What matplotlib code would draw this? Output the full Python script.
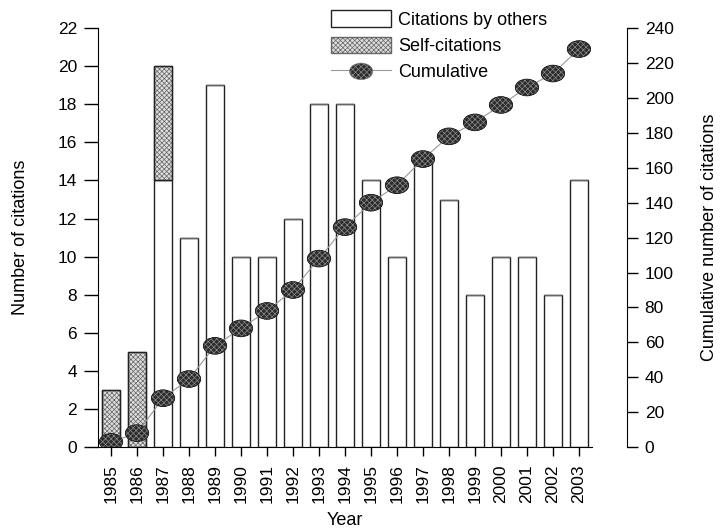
import matplotlib.pyplot as plt
from matplotlib.path import Path
from matplotlib.transforms import Affine2D
from matplotlib.lines import Line2D
from matplotlib.legend_handler import HandlerTuple

plt.rcParams['font.family'] = ['Liberation Sans', 'DejaVu Sans']
plt.rcParams['font.size'] = 12.5
plt.rcParams['hatch.linewidth'] = 0.5

years = ['1985', '1986', '1987', '1988', '1989', '1990', '1991', '1992', '1993', '1994',
         '1995', '1996', '1997', '1998', '1999', '2000', '2001', '2002', '2003']
by_others = [0, 0, 14, 11, 19, 10, 10, 12, 18, 18, 14, 10, 15, 13, 8, 10, 10, 8, 14]
self_cit = [3, 5, 6, 0, 0, 0, 0, 0, 0, 0, 0, 0, 0, 0, 0, 0, 0, 0, 0]
cumulative = [3, 8, 28, 39, 58, 68, 78, 90, 108, 126, 140, 150, 165, 178, 186, 196, 206, 214, 228]

x = list(range(len(years)))

fig = plt.figure(figsize=(7.21, 5.31), dpi=100)
ax = fig.add_axes([0.136, 0.158, 0.685, 0.789])

b1 = ax.bar(x, by_others, width=0.7, color='white', edgecolor='#222222', linewidth=1)
b2 = ax.bar(x, self_cit, width=0.7, bottom=by_others, color='#dddddd',
            edgecolor='#666666', hatch='xxxxxxx', linewidth=1)
# redraw outlines of self-citation bars in dark
for xi, s, o in zip(x, self_cit, by_others):
    if s:
        ax.bar(xi, s, width=0.7, bottom=o, fill=False, edgecolor='#222222', linewidth=1)

ax.set_xlim(-0.5, 18.5)
ax.set_ylim(0, 22)
ax.set_yticks(range(0, 23, 2))
ax.set_xticks(x)
ax.set_xticklabels(years, rotation=90)
ax.spines['top'].set_visible(False)
ax.spines['right'].set_visible(False)
ax.tick_params(axis='y', direction='out', length=10, width=1, pad=5)
ax.tick_params(axis='x', direction='out', length=6.5, width=1, pad=6)
ax.set_ylabel('Number of citations', fontsize=13, labelpad=21)
ax.set_xlabel('Year', fontsize=13, labelpad=6)

ax2 = ax.twinx()
ax2.set_ylim(0, 240)
ax2.set_yticks(range(0, 241, 20))
ax2.spines['right'].set_position(('outward', 25))
for s in ['top', 'left', 'bottom']:
    ax2.spines[s].set_visible(False)
ax2.tick_params(axis='y', direction='out', length=8, width=1, pad=5)
ax2.set_ylabel('Cumulative number of citations', fontsize=13, labelpad=20)

ellipse = Path.unit_circle().transformed(Affine2D().scale(1.4, 1.0))
line, = ax2.plot(x, cumulative, color='#999999', linewidth=0.8, zorder=2)
sc = ax2.scatter(x, cumulative, s=280, marker=ellipse, facecolor='#2b2b2b',
                 edgecolor='#8a8a8a', hatch='xxxxxx', linewidth=0.5, zorder=3)
ax2.scatter(x, cumulative, s=280, marker=ellipse, facecolor='none',
            edgecolor='#111111', linewidth=0.6, zorder=4)

line_proxy = Line2D([], [], color='#999999', linewidth=0.8)
fig.legend([b1, b2, (line_proxy, sc)], ['Citations by others', 'Self-citations', 'Cumulative'],
           handler_map={tuple: HandlerTuple(ndivide=1)}, scatterpoints=1,
           loc='upper left', bbox_to_anchor=(0.437, 1.011), frameon=False,
           handlelength=3.3, handleheight=1.0, handletextpad=0.4, labelspacing=0.45,
           fontsize=13)

fig.savefig('out.png', dpi=100)
